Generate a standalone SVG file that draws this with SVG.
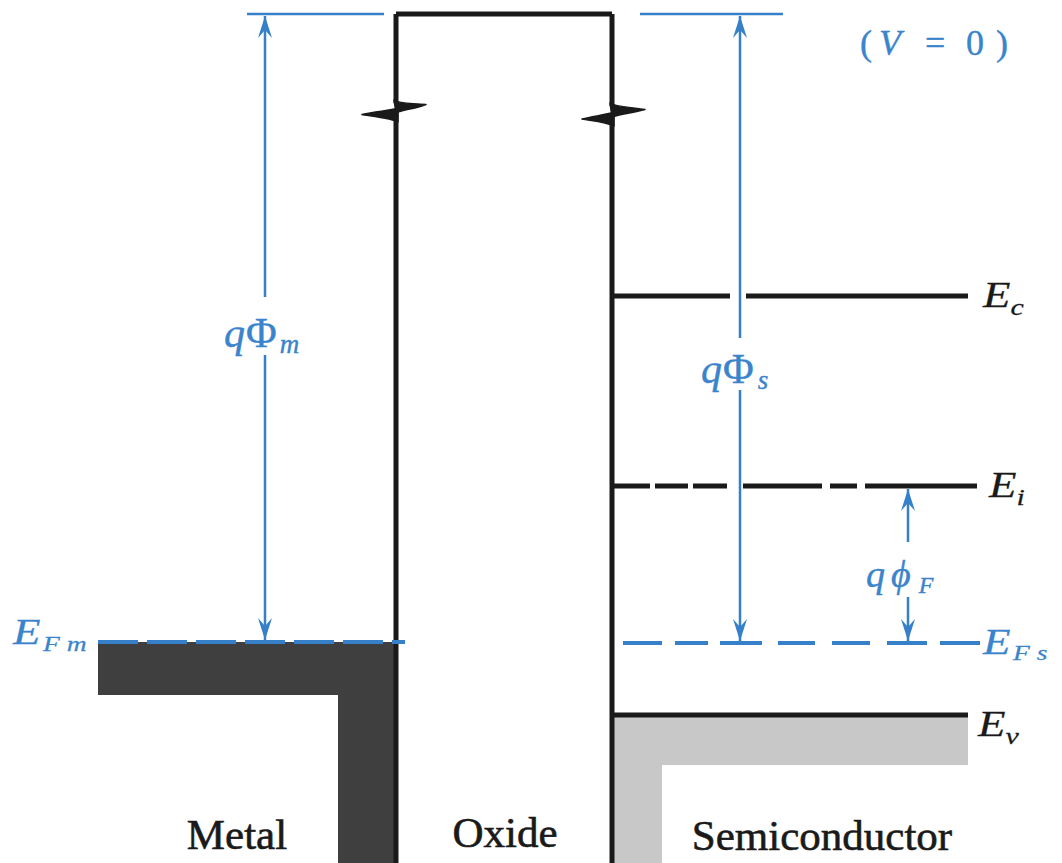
<svg xmlns="http://www.w3.org/2000/svg" width="1062" height="863" viewBox="0 0 1062 863">
<style>
.bl{stroke:#1a1a1a;stroke-width:5;fill:none;stroke-linejoin:round}
.brk{fill:#1a1a1a;stroke:#1a1a1a;stroke-width:1.5;stroke-linejoin:round}
.bu{stroke:#3580c8;stroke-width:2.5;fill:none}
.bud{stroke:#3580c8;stroke-width:4;fill:none}
.lab{font-family:"Liberation Serif","Times New Roman",serif;fill:#1a1a1a;stroke:#1a1a1a;stroke-width:0.6}
.blab{font-family:"Liberation Serif","Times New Roman",serif;fill:#3a84cc;stroke:#3a84cc;stroke-width:0.4}
.sym{stroke-width:0.25}
.it{font-style:italic}
</style>
<defs>
<marker id="ah" viewBox="-24 -9 26 18" refX="0" refY="0" markerWidth="26" markerHeight="18" markerUnits="userSpaceOnUse" orient="auto-start-reverse">
<path d="M0,0 L-22,-7 L-14,0 L-22,7 Z" fill="#3580c8"/>
</marker>
</defs>
<rect width="1062" height="863" fill="#ffffff"/>

<g id="metal">
<path d="M98,642 H396 V863 H338 V695 H98 Z" fill="#3f3f3f"/>
<text class="lab" x="237" y="849" font-size="43" text-anchor="middle">Metal</text>
</g>

<g id="semiconductor">
<path d="M612,716 H968 V765 H662 V863 H612 Z" fill="#c8c8c8"/>
<text class="lab" x="822" y="850" font-size="43" text-anchor="middle">Semiconductor</text>
</g>

<g id="oxide">
<path class="bl" d="M396,863 V112 M396,14 V103"/>
<path class="brk" d="M394,100 C400,104 410,103 426,104.5 C414,109 402,110 396,113 Z"/>
<path class="brk" d="M398,108 C390,111 376,111 362,114.5 C376,117 390,118 398,122 Z"/>
<path class="bl" d="M612,863 V115 M612,14 V106"/>
<path class="brk" d="M610,103 C616,107 630,107 645,109.5 C632,113 620,114 612,117 Z"/>
<path class="brk" d="M614,112 C606,115 594,116 582,119 C594,121 606,122 614,126 Z"/>
<path class="bl" d="M396,14 H612"/>
<text class="lab" x="505" y="847" font-size="43" text-anchor="middle">Oxide</text>
</g>

<g id="levels">
<path class="bl" d="M612,296 H730 M746,296 H968" stroke-width="6"/>
<path class="bl" d="M612,486 H650 M655,486 H688 M693,486 H727 M743,486 H822 M830,486 H857 M865,486 H977"/>
<path class="bl" d="M612,715 H968" stroke-width="6"/>
<path class="bud" d="M98,642 H405" stroke-dasharray="40 9"/>
<path class="bud" d="M623,643 H662 M675,643 H708 M720,643 H762 M778,643 H815 M832,643 H870 M887,643 H927 M940,643 H980"/>
<path class="bu" d="M247,14 H384 M640,14 H783" stroke-width="3"/>
</g>

<g id="connectors">
<path class="bu" d="M265,16 V297" marker-start="url(#ah)"/>
<path class="bu" d="M265,355 V640" marker-end="url(#ah)"/>
<path class="bu" d="M740,16 V338" marker-start="url(#ah)"/>
<path class="bu" d="M740,390 V641" marker-end="url(#ah)"/>
<path class="bu" d="M908,489 V542" marker-start="url(#ah)"/>
<path class="bu" d="M908,597 V641" marker-end="url(#ah)"/>
</g>

<g id="labels">
<text class="blab" x="224" y="347" font-size="42"><tspan class="it">q</tspan><tspan dx="1">Φ</tspan><tspan class="it" font-size="27" dx="3" dy="6">m</tspan></text>
<text class="blab" x="701" y="383" font-size="42"><tspan class="it">q</tspan><tspan dx="1">Φ</tspan><tspan class="it" font-size="27" dx="4" dy="6">s</tspan></text>
<text class="blab" x="866" y="587" font-size="38"><tspan class="it">q</tspan><tspan class="it" dx="6">ϕ</tspan><tspan class="it" font-size="24" dx="8" dy="6">F</tspan></text>
<text class="lab it sym" transform="translate(983,307) scale(1.25,1)" font-size="36">E<tspan font-size="24" dy="8">c</tspan></text>
<text class="lab it sym" transform="translate(989,497) scale(1.25,1)" font-size="36">E<tspan font-size="24" dy="8">i</tspan></text>
<text class="lab it sym" transform="translate(978,736) scale(1.25,1)" font-size="36">E<tspan font-size="24" dy="8">v</tspan></text>
<text class="blab it sym" transform="translate(983,654) scale(1.25,1)" font-size="36">E<tspan font-size="22" dx="2" dy="6">F s</tspan></text>
<text class="blab it sym" transform="translate(13,644) scale(1.25,1)" font-size="36">E<tspan font-size="22" dx="2" dy="7">F m</tspan></text>
<text class="blab" y="55" font-size="36"><tspan x="860">(</tspan><tspan x="879" class="it">V</tspan><tspan x="925">=</tspan><tspan x="966">0</tspan><tspan x="996">)</tspan></text>
</g>
</svg>
